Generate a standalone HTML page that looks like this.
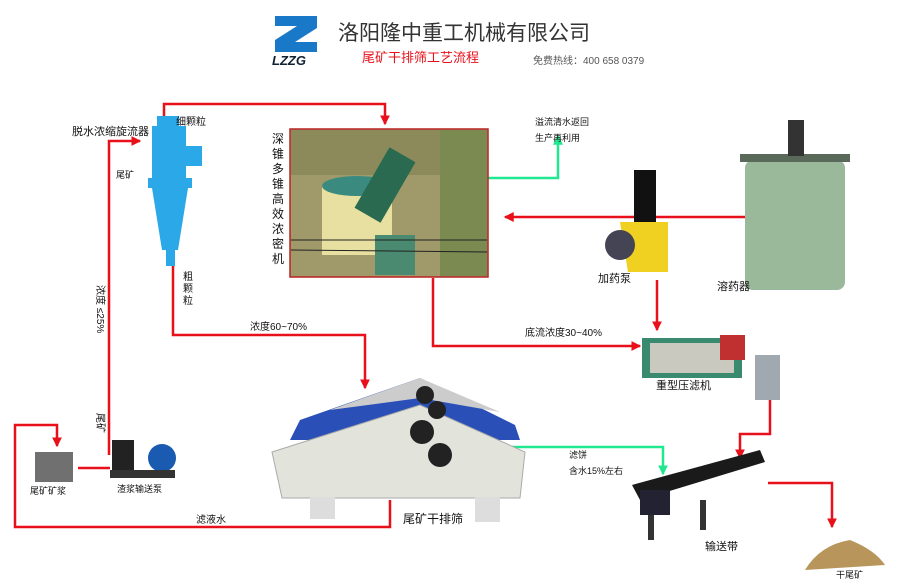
<!DOCTYPE html>
<html><head><meta charset="utf-8"><style>
html,body{margin:0;padding:0;background:#fff;}
svg{display:block;font-family:"Liberation Sans","Noto Sans CJK SC",sans-serif;}
</style></head><body>
<svg width="900" height="587" viewBox="0 0 900 587" xmlns="http://www.w3.org/2000/svg">
<defs>
<marker id="ar" markerWidth="4" markerHeight="4" refX="3.5" refY="2" orient="auto" markerUnits="strokeWidth"><path d="M0,0 L4,2 L0,4 z" fill="#e8101a"/></marker>
<marker id="ag" markerWidth="4" markerHeight="4" refX="3.5" refY="2" orient="auto" markerUnits="strokeWidth"><path d="M0,0 L4,2 L0,4 z" fill="#20e890"/></marker>
</defs>
<!-- header -->
<path d="M275,16 h42 v12 l-22,14 h22 v10 h-42 v-12 l22,-14 h-22z" fill="#1a78c8"/>
<text x="272" y="65" font-size="13" font-weight="bold" font-style="italic" fill="#123">LZZG</text>
<text x="338" y="40" font-size="21" fill="#333">洛阳隆中重工机械有限公司</text>
<text x="362" y="62" font-size="13" fill="#e8101a">尾矿干排筛工艺流程</text>
<text x="533" y="64" font-size="10" fill="#555">免费热线：400 658 0379</text>

<!-- red lines -->
<g fill="none" stroke="#e8101a" stroke-width="2.5">
<path d="M164,118 V104 H385 V124" marker-end="url(#ar)"/>
<path d="M109,455 V141 H140" marker-end="url(#ar)"/>
<path d="M173,265 V335 H365 V388" marker-end="url(#ar)"/>
<path d="M433,278 V346 H640" marker-end="url(#ar)"/>
<path d="M745,217 H505" marker-end="url(#ar)"/>
<path d="M657,280 V330" marker-end="url(#ar)"/>
<path d="M770,400 V434 H740 V458" marker-end="url(#ar)"/>
<path d="M768,483 H832 V527" marker-end="url(#ar)"/>
<path d="M390,500 V527 H15 V425 H57 V446" marker-end="url(#ar)"/>
<path d="M78,468 H110"/>
</g>
<g fill="none" stroke="#20e890" stroke-width="2.5">
<path d="M418,178 H558 V136" marker-end="url(#ag)"/>
<path d="M505,447 H663 V474" marker-end="url(#ag)"/>
</g>

<!-- cyclone -->
<g fill="#2aa8e8">
<rect x="157" y="116" width="22" height="10"/>
<rect x="152" y="126" width="34" height="55"/>
<rect x="184" y="146" width="18" height="20"/>
<rect x="148" y="178" width="44" height="10"/>
<polygon points="152,188 188,188 178,250 162,250"/>
<rect x="166" y="250" width="9" height="16"/>
</g>
<!-- thickener photo -->
<rect x="290" y="129" width="198" height="148" fill="#a09a6a" stroke="#b22" stroke-width="1.5"/>
<rect x="291" y="130" width="196" height="45" fill="#8c8a5a"/>
<rect x="440" y="130" width="47" height="146" fill="#7a8a50"/>
<rect x="322" y="185" width="70" height="70" fill="#e8e0a0"/>
<ellipse cx="357" cy="186" rx="35" ry="10" fill="#3a8a80"/>
<rect x="375" y="235" width="40" height="40" fill="#4a8a70"/>
<rect x="370" y="150" width="30" height="70" fill="#2a6a50" transform="rotate(30 385 185)"/>
<line x1="291" y1="240" x2="487" y2="240" stroke="#222" stroke-width="1"/>
<line x1="291" y1="250" x2="487" y2="252" stroke="#222" stroke-width="1"/>
<text font-size="12" fill="#111"><tspan x="272" y="143">深</tspan><tspan x="272" y="158">锥</tspan><tspan x="272" y="173">多</tspan><tspan x="272" y="188">锥</tspan><tspan x="272" y="203">高</tspan><tspan x="272" y="218">效</tspan><tspan x="272" y="233">浓</tspan><tspan x="272" y="248">密</tspan><tspan x="272" y="263">机</tspan></text>
<!-- tank -->
<rect x="745" y="160" width="100" height="130" rx="8" fill="#9ab89a"/>
<rect x="740" y="154" width="110" height="8" fill="#5a6a5a"/>
<rect x="788" y="120" width="16" height="36" fill="#333"/>
<!-- dosing pump -->
<rect x="634" y="170" width="22" height="55" fill="#111"/>
<path d="M620,222 h48 v50 h-40 z" fill="#f0d020"/>
<circle cx="620" cy="245" r="15" fill="#445"/>
<!-- filter press -->
<rect x="642" y="338" width="100" height="40" fill="#3a8a70"/>
<rect x="650" y="343" width="84" height="30" fill="#c9c9c0"/>
<rect x="720" y="335" width="25" height="25" fill="#c03030"/>
<rect x="755" y="355" width="25" height="45" fill="#a0a8b0"/>
<!-- screen -->
<polygon points="300,420 420,378 515,425 520,440 290,440" fill="#2a50b8"/>
<polygon points="330,410 420,378 500,412 420,398" fill="#ccc"/>
<polygon points="272,452 420,405 525,452 520,498 282,498" fill="#e2e4dc" stroke="#aaa"/>
<circle cx="425" cy="395" r="9" fill="#222"/><circle cx="437" cy="410" r="9" fill="#222"/>
<circle cx="422" cy="432" r="12" fill="#222"/><circle cx="440" cy="455" r="12" fill="#222"/>
<rect x="310" y="497" width="25" height="22" fill="#ddd"/><rect x="475" y="497" width="25" height="25" fill="#ddd"/>
<!-- slurry pump -->
<rect x="112" y="440" width="22" height="36" fill="#222"/>
<circle cx="162" cy="458" r="14" fill="#1a5ab0"/>
<rect x="110" y="470" width="65" height="8" fill="#333"/>
<!-- slurry pic -->
<rect x="35" y="452" width="38" height="30" fill="#707070"/>
<!-- conveyor -->
<polygon points="632,485 760,450 765,462 640,500" fill="#1a1a1a"/>
<rect x="640" y="490" width="30" height="25" fill="#223" />
<rect x="648" y="515" width="6" height="25" fill="#333"/><rect x="700" y="500" width="6" height="30" fill="#333"/>
<!-- dry tailings -->
<path d="M805,570 Q820,545 850,540 Q875,550 885,565 z" fill="#b8955a"/>

<!-- labels -->
<g font-size="11" fill="#111">
<text x="72" y="135">脱水浓缩旋流器</text>
<text x="176" y="125" font-size="10">细颗粒</text>
<text x="116" y="178" font-size="9">尾矿</text>
<text x="535" y="125" font-size="9">溢流清水返回</text>
<text x="535" y="141" font-size="9">生产再利用</text>
<text x="598" y="282">加药泵</text>
<text x="717" y="290">溶药器</text>
<text x="250" y="330" font-size="10">浓度60~70%</text>
<text x="525" y="336" font-size="10">底流浓度30~40%</text>
<text x="656" y="389" font-size="11">重型压滤机</text>
<text x="569" y="458" font-size="9">滤饼</text>
<text x="569" y="474" font-size="9">含水15%左右</text>
<text x="30" y="494" font-size="9">尾矿矿浆</text>
<text x="117" y="492" font-size="9">渣浆输送泵</text>
<text x="196" y="523" font-size="10">滤液水</text>
<text x="403" y="523" font-size="12">尾矿干排筛</text>
<text x="705" y="550">输送带</text>
<text x="836" y="578" font-size="9">干尾矿</text>
</g>
<g font-size="10" fill="#111">
<text x="183" y="280">粗</text><text x="183" y="292">颗</text><text x="183" y="304">粒</text>
<text transform="translate(97,285) rotate(90)">浓度 ≤25%</text>
<text transform="translate(97,413) rotate(90)">尾矿</text>
</g>
</svg>
</body></html>
